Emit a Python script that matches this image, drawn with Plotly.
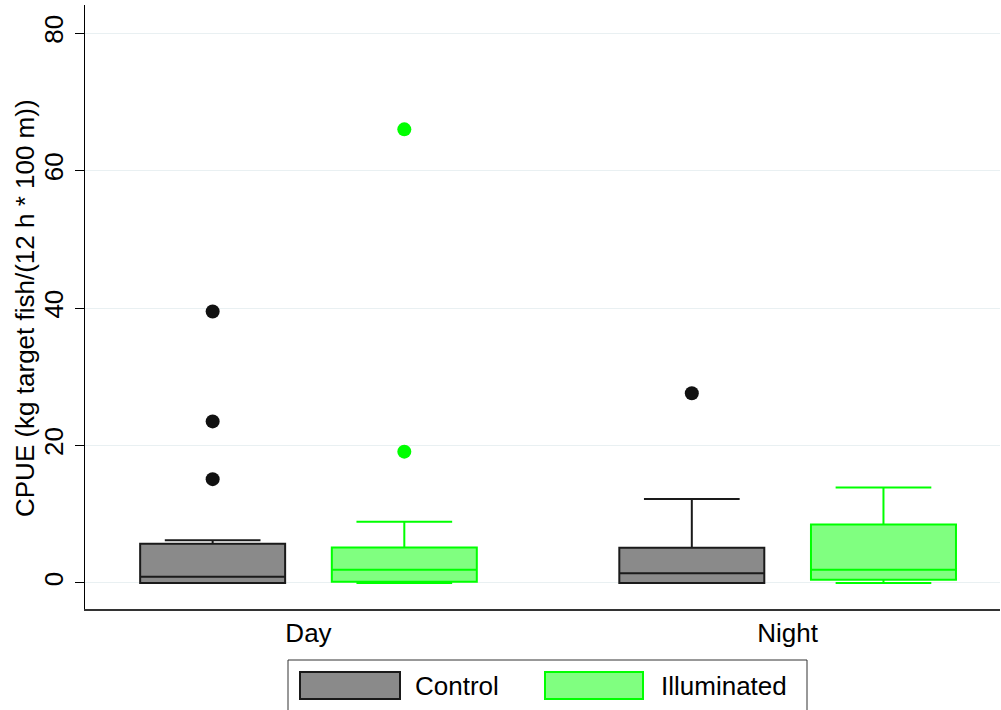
import plotly.graph_objects as go

# ---- data ----
periods = ["Day", "Night"]
group_names = ["Control", "Illuminated"]

control_q1 = [0.0, 0.0]
control_median = [0.9, 1.4]
control_q3 = [5.7, 5.1]
control_lower = [0.0, 0.0]
control_upper = [6.2, 12.2]
control_outliers = [[15.1, 23.5, 39.5], [27.6]]

illum_q1 = [0.15, 0.45]
illum_median = [1.9, 1.9]
illum_q3 = [5.15, 8.5]
illum_lower = [0.0, 0.0]
illum_upper = [8.9, 13.9]
illum_outliers = [[19.1, 66.0], []]

y_ticks = [0, 20, 40, 60, 80]
y_title = "CPUE (kg target fish/(12 h * 100 m))"

# ---- styling ----
FONT = "Liberation Sans, Arial, Helvetica, sans-serif"
FS = 26
W, H = 1001, 710
ML, MR, MT, MB = 85, 1, 5, 101
PW, PH = W - ML - MR, H - MT - MB

ctrl_fill, ctrl_line, ctrl_pt = "#8a8a8a", "#1a1a1a", "#111111"
ill_fill, ill_line, ill_pt = "#80ff80", "#00ff00", "#00ff00"


def px_x(p):
    return (p - ML) / PW


def px_y(p):
    return (H - MB - p) / PH


fig = go.Figure()

fig.add_trace(go.Box(
    name=group_names[0], x=periods,
    q1=control_q1, median=control_median, q3=control_q3,
    lowerfence=control_lower, upperfence=control_upper,
    y=control_outliers, boxpoints="all", jitter=0, pointpos=0,
    fillcolor=ctrl_fill, line=dict(color=ctrl_line, width=2),
    marker=dict(color=ctrl_pt, size=14),
    whiskerwidth=0.66, showlegend=False, hoverinfo="skip",
))
fig.add_trace(go.Box(
    name=group_names[1], x=periods,
    q1=illum_q1, median=illum_median, q3=illum_q3,
    lowerfence=illum_lower, upperfence=illum_upper,
    y=illum_outliers, boxpoints="all", jitter=0, pointpos=0,
    fillcolor=ill_fill, line=dict(color=ill_line, width=2),
    marker=dict(color=ill_pt, size=14),
    whiskerwidth=0.66, showlegend=False, hoverinfo="skip",
))

# custom legend (wide swatches as in the reference)
shapes = [
    dict(type="rect", xref="paper", yref="paper",
         x0=px_x(288), x1=px_x(807), y0=px_y(660), y1=px_y(730),
         line=dict(color="#333333", width=1), fillcolor="white"),
    dict(type="rect", xref="paper", yref="paper",
         x0=px_x(300), x1=px_x(400), y0=px_y(672), y1=px_y(699),
         line=dict(color=ctrl_line, width=2), fillcolor=ctrl_fill),
    dict(type="rect", xref="paper", yref="paper",
         x0=px_x(545), x1=px_x(643), y0=px_y(672), y1=px_y(699),
         line=dict(color=ill_line, width=2), fillcolor=ill_fill),
]
annotations = [
    dict(text=group_names[0], xref="paper", yref="paper", x=px_x(413), y=px_y(686),
         xanchor="left", yanchor="middle", showarrow=False,
         font=dict(family=FONT, size=FS, color="black")),
    dict(text=group_names[1], xref="paper", yref="paper", x=px_x(659), y=px_y(686),
         xanchor="left", yanchor="middle", showarrow=False,
         font=dict(family=FONT, size=FS, color="black")),
    # y-axis title
    dict(text=y_title, xref="paper", yref="paper", x=px_x(25), y=px_y(308),
         xanchor="center", yanchor="middle", textangle=-90, showarrow=False,
         font=dict(family=FONT, size=FS, color="black")),
]

fig.update_layout(
    width=W, height=H,
    margin=dict(l=ML, r=MR, t=MT, b=MB, autoexpand=False),
    paper_bgcolor="white", plot_bgcolor="white",
    boxmode="group", boxgap=0.2, boxgroupgap=0.2435,
    font=dict(family=FONT, size=FS, color="black"),
    shapes=shapes, annotations=annotations,
    showlegend=False,
)
fig.update_xaxes(
    type="category", range=[-0.4664, 1.4432],
    showline=True, linecolor="#333333", linewidth=1.5,
    ticks="", showgrid=False, zeroline=False,
    tickfont=dict(size=FS), ticklabelstandoff=0,
)
fig.update_yaxes(
    range=[-3.8, 84.1], tickvals=y_ticks, tickangle=-90,
    showline=True, linecolor="black", linewidth=1,
    ticks="outside", ticklen=9, tickcolor="black", tickwidth=1,
    showgrid=True, gridcolor="#e9f0f2", gridwidth=1, zeroline=False,
    tickfont=dict(size=FS), ticklabelstandoff=2,
    automargin=False,
)

fig.write_html("out.html", config={"displayModeBar": False},
               post_script="document.body.style.margin='0';")
